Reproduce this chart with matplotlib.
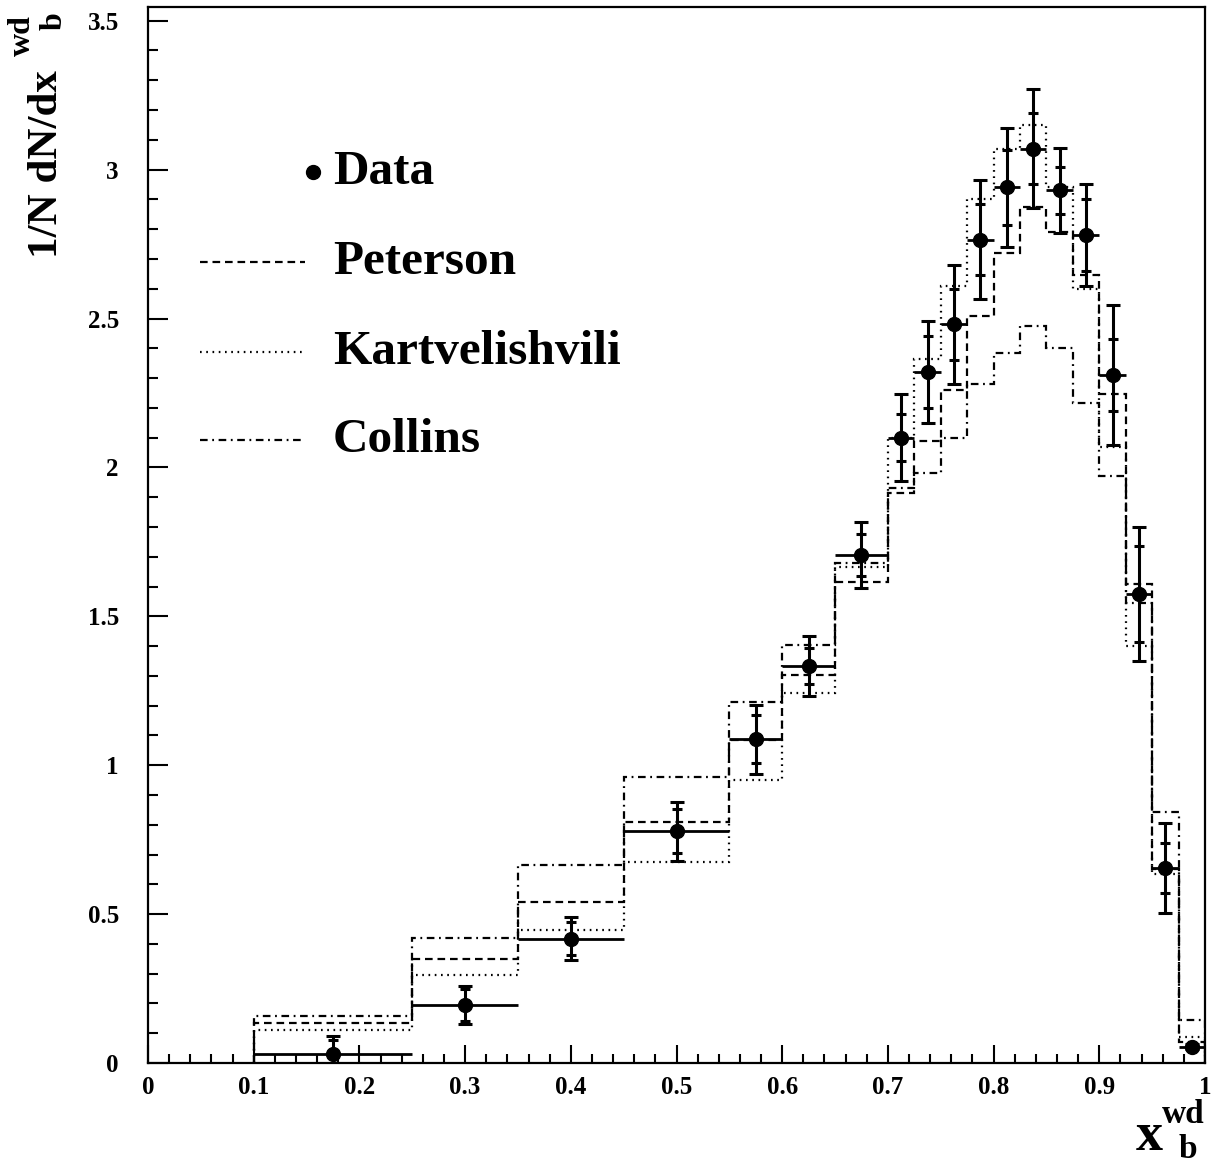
import numpy as np
import matplotlib
matplotlib.use("Agg")
import matplotlib.pyplot as plt
from matplotlib.lines import Line2D

plt.rcParams['font.family'] = ['Liberation Serif', 'DejaVu Serif']
plt.rcParams['font.weight'] = 'bold'
plt.rcParams['lines.scale_dashes'] = False

# ---- data ----
bin_edges = [0.1, 0.25, 0.35, 0.45, 0.55, 0.6, 0.65, 0.7, 0.725, 0.75, 0.775,
             0.8, 0.825, 0.85, 0.875, 0.9, 0.925, 0.95, 0.975, 1.0]
data_y = [0.03, 0.195, 0.418, 0.778, 1.087, 1.333, 1.706, 2.10, 2.32, 2.48,
          2.765, 2.94, 3.07, 2.93, 2.78, 2.31, 1.575, 0.655, 0.055]
err_tot = [0.06, 0.064, 0.073, 0.10, 0.115, 0.10, 0.112, 0.145, 0.17, 0.20,
           0.20, 0.20, 0.20, 0.143, 0.17, 0.235, 0.225, 0.15, 0.008]
err_stat = [0.047, 0.053, 0.055, 0.074, 0.08, 0.06, 0.072, 0.08, 0.12, 0.12,
            0.12, 0.125, 0.12, 0.08, 0.12, 0.12, 0.16, 0.085, 0.004]
peterson = [0.133, 0.348, 0.542, 0.809, 1.085, 1.303, 1.615, 1.915, 2.09, 2.26,
            2.51, 2.72, 2.875, 2.79, 2.645, 2.245, 1.61, 0.65, 0.07]
kartvelishvili = [0.112, 0.294, 0.447, 0.675, 0.95, 1.243, 1.665, 2.10, 2.365, 2.61,
                  2.90, 3.07, 3.15, 2.94, 2.60, 2.07, 1.40, 0.635, 0.088]
collins = [0.157, 0.42, 0.665, 0.962, 1.213, 1.404, 1.68, 1.93, 1.98, 2.10,
           2.28, 2.385, 2.475, 2.40, 2.215, 1.97, 1.545, 0.844, 0.144]
legend_labels = ['Data', 'Peterson', 'Kartvelishvili', 'Collins']
x_ticklabels = ['0', '0.1', '0.2', '0.3', '0.4', '0.5', '0.6', '0.7', '0.8', '0.9', '1']
y_ticklabels = ['0', '0.5', '1', '1.5', '2', '2.5', '3', '3.5']

W, H = 1217, 1166
fig = plt.figure(figsize=(W / 100, H / 100), dpi=100)
ax = fig.add_axes([148 / W, 1 - 1063 / H, (1205 - 148) / W, (1063 - 7) / H])

ls_pet = (0, (5.5, 3.5))
ls_kar = (0, (1.2, 3.3))
ls_col = (0, (5.5, 3.3, 1.3, 3.3))
lw = 1.6

edges = np.array(bin_edges)
ax.stairs(peterson, edges, baseline=0, color='black', lw=lw, linestyle=ls_pet)
ax.stairs(kartvelishvili, edges, baseline=0, color='black', lw=lw, linestyle=ls_kar)
ax.stairs(collins, edges, baseline=0, color='black', lw=lw, linestyle=ls_col)

xc = 0.5 * (edges[:-1] + edges[1:])
xw = 0.5 * (edges[1:] - edges[:-1])
# horizontal bars (no caps)
ax.errorbar(xc, data_y, xerr=xw, fmt='o', color='black', ms=10,
            elinewidth=2.0, capsize=0, zorder=5)
# total errors with caps
ax.errorbar(xc, data_y, yerr=err_tot, fmt='none', ecolor='black',
            elinewidth=2.2, capsize=5, capthick=2.2, zorder=4)
# statistical error ticks
ax.errorbar(xc, data_y, yerr=err_stat, fmt='none', ecolor='black',
            elinewidth=0, capsize=3.6, capthick=2.2, zorder=4)

ax.set_xlim(0, 1)
ax.set_ylim(0, 3.5 + 13.7 / 297.7)
ax.set_xticks(np.arange(0, 1.01, 0.1))
ax.set_xticklabels(x_ticklabels)
ax.set_xticks(np.arange(0, 1.001, 0.02), minor=True)
ax.set_yticks(np.arange(0, 3.51, 0.5))
ax.set_yticklabels(y_ticklabels)
ax.set_yticks(np.arange(0, 3.501, 0.1), minor=True)
ax.tick_params(axis='both', which='both', direction='in', top=False, right=False,
               width=1.5, labelsize=18)
ax.tick_params(axis='y', which='major', length=14.4, pad=21)
ax.tick_params(axis='y', which='minor', length=7.2)
ax.tick_params(axis='x', which='major', length=13, pad=9)
ax.tick_params(axis='x', which='minor', length=6.5)
for lab in ax.get_xticklabels() + ax.get_yticklabels():
    lab.set_fontweight('bold')
for sp in ax.spines.values():
    sp.set_linewidth(1.6)


def ftxt(px, py, s, size, rot=0, ha='left', va='baseline'):
    fig.text(px / W, 1 - py / H, s, fontsize=size, fontweight='bold', rotation=rot,
             rotation_mode='anchor', ha=ha, va=va)


# y axis title (rotated), pieces placed ROOT-style
ftxt(57, 258, '1/N dN/dx', 31, rot=90)
ftxt(30, 56, 'wd', 23, rot=90)
ftxt(62, 30, 'b', 23, rot=90)

# x axis title
ftxt(1136, 1150, 'x', 39)
ftxt(1162, 1123, 'wd', 24)
ftxt(1179, 1158, 'b', 24)

# legend (manual, ROOT style)
tr = fig.transFigure
rows_y = [172, 262, 352, 440]
fig.add_artist(Line2D([313 / W], [1 - rows_y[0] / H], marker='o', ms=10,
                      color='black', transform=tr))
for yy, ls in zip(rows_y[1:], [ls_pet, ls_kar, ls_col]):
    fig.add_artist(Line2D([200 / W, 305 / W], [1 - yy / H, 1 - yy / H], color='black',
                          lw=lw, linestyle=ls, transform=tr))
for yy, lab in zip(rows_y, legend_labels):
    fig.text(333 / W, 1 - yy / H, lab, ha='left', va='center', fontsize=35.5,
             fontweight='bold')

fig.savefig('out.png', dpi=100)
